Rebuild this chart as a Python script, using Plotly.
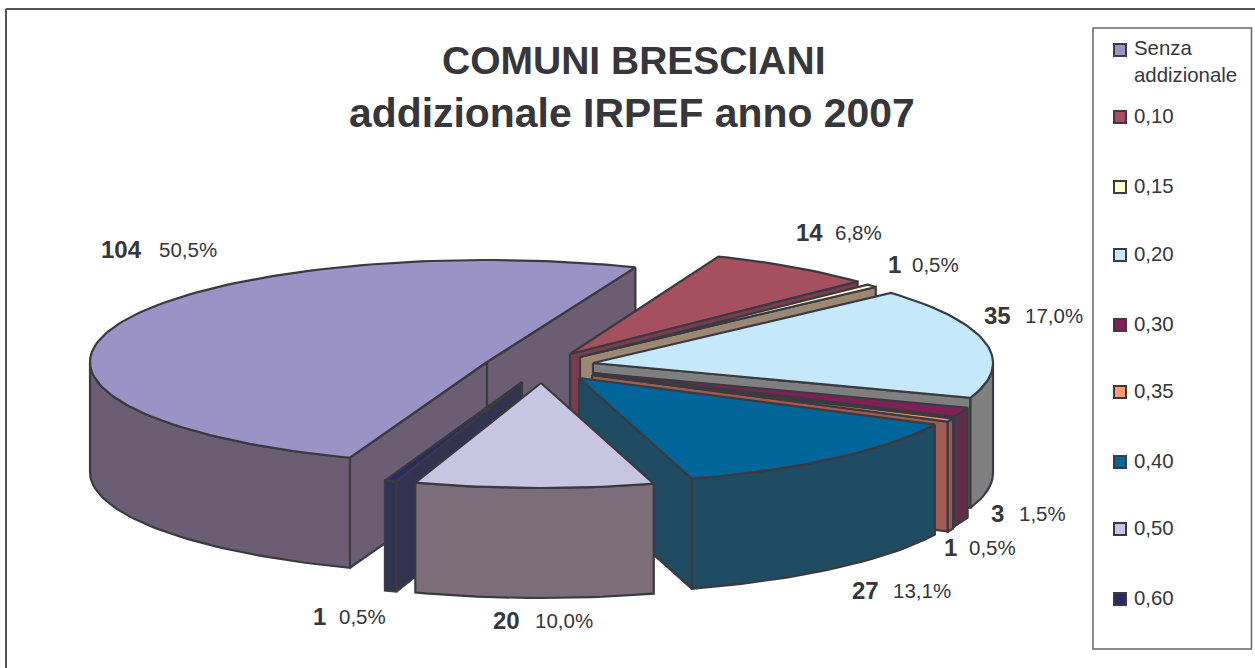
import math
import plotly.graph_objects as go

# ---- data ----
CATEGORIES = ["Senza<br>addizionale", "0,10", "0,15", "0,20", "0,30", "0,35", "0,40", "0,50", "0,60"]
VALUES = [104, 14, 1, 35, 3, 1, 27, 20, 1]
PERCENT_LABELS = ["50,5%", "6,8%", "0,5%", "17,0%", "1,5%", "0,5%", "13,1%", "10,0%", "0,5%"]
TITLE_LINES = ["COMUNI BRESCIANI", "addizionale IRPEF anno 2007"]

# ---- styles ----
TOP_COLORS = ["#9B92C6", "#A6505F", "#FFFBCC", "#C5E9FA", "#7F2156", "#FF9C73", "#006699", "#C8C5E3", "#2A2A66"]
SIDE_COLORS = ["#6B5E72", "#7A3D4D", "#9A8872", "#7F7F7F", "#5E2E48", "#9E5B4F", "#1F4C63", "#7C6E78", "#32334F"]
LINE = "#3A3A40"
TEXT = "#36363B"
FONT = "Liberation Sans"

# ---- pie projection (pixel space of the axes) ----
START_ANGLE = 200.2
DEPTH = 110
RX = [397, 397, 397, 400, 397, 397, 397, 397, 397]
RY = [102, 105, 105, 105, 105, 105, 105, 105, 105]
APEX = [(487, 362), (570, 354), (580, 357), (593, 363), (593, 373), (592, 375), (579, 378), (541, 383), (522, 382)]
DRAW_ORDER = [0, 1, 2, 3, 4, 5, 6, 8, 7]
LABEL_LEFT = [(100, 158, 249), (795, 834, 232), (887, 911, 264), (983, 1024, 315), (990, 1018, 513),
              (943, 968, 547), (851, 892, 590), (492, 534, 620), (312, 338, 616)]
LEGEND_Y = [50, 117, 187, 255, 325, 392, 462, 529, 599]
LEGEND_X_MARK, LEGEND_X_TEXT = 1120, 1133

total = sum(VALUES)
angles = [START_ANGLE]
for v in VALUES:
    angles.append(angles[-1] + 360.0 * v / total)


def rim(a, i):
    t = math.radians(a)
    return APEX[i][0] + RX[i] * math.sin(t), APEX[i][1] - RY[i] * math.cos(t)


fig = go.Figure()


def poly(pts, color, name):
    fig.add_trace(go.Scatter(
        x=[p[0] for p in pts] + [pts[0][0]], y=[p[1] for p in pts] + [pts[0][1]],
        mode="lines", fill="toself", fillcolor=color, name=name, hoverinfo="name",
        line=dict(color=LINE, width=2.2), showlegend=False))


for i in DRAW_ORDER:
    a0, a1 = angles[i], angles[i + 1]
    name = CATEGORIES[i].replace("<br>", " ")
    ax, ay = APEX[i]
    n = max(2, int((a1 - a0) / 1.5))
    arc = [a0 + (a1 - a0) * k / n for k in range(n + 1)]
    # radial walls
    for a, vis in ((a0, math.sin(math.radians(a0)) < 0), (a1, math.sin(math.radians(a1)) > 0)):
        if vis:
            x, y = rim(a, i)
            poly([(ax, ay), (x, y), (x, y + DEPTH), (ax, ay + DEPTH)], SIDE_COLORS[i], name)
    # outer rim, where it faces the viewer
    front = []
    for base in (90, 450):
        lo, hi = max(a0, base), min(a1, base + 180)
        if hi > lo:
            front.append((lo, hi))
    for lo, hi in front:
        m = max(2, int((hi - lo) / 1.5))
        tops = [rim(lo + (hi - lo) * k / m, i) for k in range(m + 1)]
        poly(tops + [(x, y + DEPTH) for x, y in reversed(tops)], SIDE_COLORS[i], name)
    # top face
    poly([(ax, ay)] + [rim(a, i) for a in arc], TOP_COLORS[i], name)

# legend
for i, cat in enumerate(CATEGORIES):
    fig.add_trace(go.Scatter(
        x=[LEGEND_X_MARK], y=[LEGEND_Y[i]], mode="markers", showlegend=False,
        marker=dict(symbol="square", size=12, color=TOP_COLORS[i], line=dict(color=LINE, width=2)),
        name=cat.replace("<br>", " "), hoverinfo="name"))

ann = []
def text(x, y, s, size, bold=False, anchor="left", align="left"):
    ann.append(dict(x=x, y=y, xref="x", yref="y", text=f"<b>{s}</b>" if bold else s, showarrow=False,
                    xanchor=anchor, yanchor="middle", align=align, borderpad=0,
                    font=dict(family=FONT, size=size, color=TEXT)))

text(634, 60, TITLE_LINES[0], 39, True, "center")
text(631.5, 113, TITLE_LINES[1], 40.9, True, "center")
for i, (xa, xb, y) in enumerate(LABEL_LEFT):
    text(xa, y, str(VALUES[i]), 24, True)
    text(xb, y, PERCENT_LABELS[i], 20.5)
for i, cat in enumerate(CATEGORIES):
    text(LEGEND_X_TEXT, LEGEND_Y[i] + (12 if i == 0 else 0) - 1, cat, 20.4)

shapes = [
    dict(type="line", x0=6, x1=6, y0=9, y1=668, xref="x", yref="y", line=dict(color="#555555", width=2)),
    dict(type="line", x0=6, x1=1255, y0=9, y1=9, xref="x", yref="y", line=dict(color="#555555", width=2)),
    dict(type="rect", x0=1093, x1=1251.5, y0=28, y1=649, xref="x", yref="y", line=dict(color="#666666", width=1.5)),
]

fig.update_layout(
    width=1255, height=668, margin=dict(l=0, r=0, t=0, b=0),
    paper_bgcolor="white", plot_bgcolor="white", showlegend=False,
    xaxis=dict(range=[0, 1255], visible=False, fixedrange=True),
    yaxis=dict(range=[668, 0], visible=False, fixedrange=True),
    annotations=ann, shapes=shapes, font=dict(family=FONT),
)
fig.write_html("out.html", post_script="document.body.style.margin='0';document.body.style.overflow='hidden';",
               config=dict(displayModeBar=False))
